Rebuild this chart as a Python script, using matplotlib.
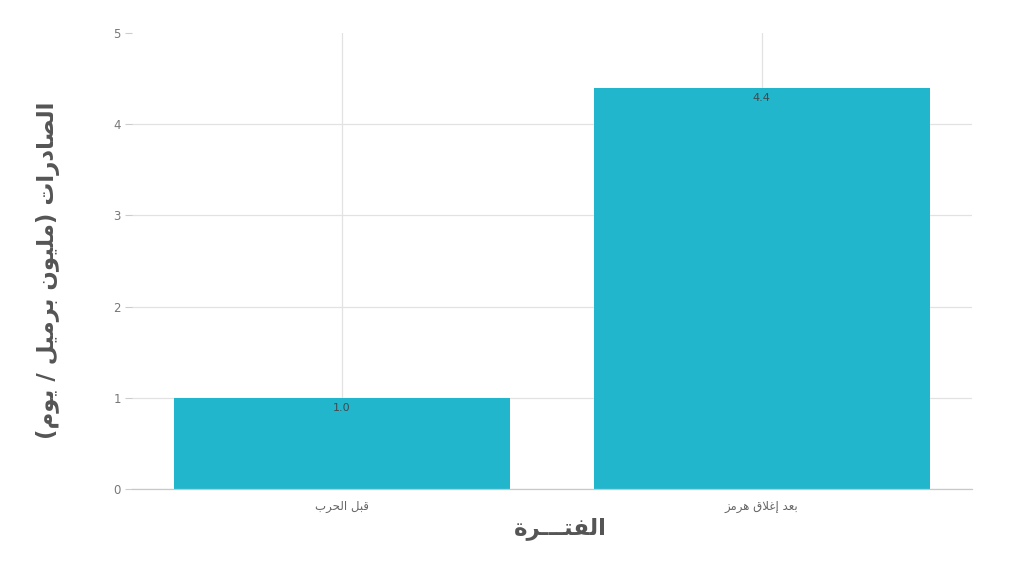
import matplotlib
matplotlib.use("Agg")
import matplotlib.pyplot as plt

categories = ["قبل الحرب", "بعد إغلاق هرمز"]
values = [1.0, 4.4]
value_labels = ["1.0", "4.4"]
y_ticks = [0, 1, 2, 3, 4, 5]
x_title = "الفتـــرة"
y_title = "الصادرات (مليون برميل / يوم)"

# --- minimal Arabic shaping (presentation forms) + visual reordering ---
FORMS = {  # isolated, final, initial, medial
    'ا': (0xFE8D, 0xFE8E, None, None), 'إ': (0xFE87, 0xFE88, None, None),
    'ب': (0xFE8F, 0xFE90, 0xFE91, 0xFE92), 'ة': (0xFE93, 0xFE94, None, None),
    'ت': (0xFE95, 0xFE96, 0xFE97, 0xFE98), 'ح': (0xFEA1, 0xFEA2, 0xFEA3, 0xFEA4),
    'د': (0xFEA9, 0xFEAA, None, None), 'ر': (0xFEAD, 0xFEAE, None, None),
    'ز': (0xFEAF, 0xFEB0, None, None), 'ص': (0xFEB9, 0xFEBA, 0xFEBB, 0xFEBC),
    'ع': (0xFEC9, 0xFECA, 0xFECB, 0xFECC), 'غ': (0xFECD, 0xFECE, 0xFECF, 0xFED0),
    'ف': (0xFED1, 0xFED2, 0xFED3, 0xFED4), 'ق': (0xFED5, 0xFED6, 0xFED7, 0xFED8),
    'ل': (0xFEDD, 0xFEDE, 0xFEDF, 0xFEE0), 'م': (0xFEE1, 0xFEE2, 0xFEE3, 0xFEE4),
    'ن': (0xFEE5, 0xFEE6, 0xFEE7, 0xFEE8), 'ه': (0xFEE9, 0xFEEA, 0xFEEB, 0xFEEC),
    'و': (0xFEED, 0xFEEE, None, None), 'ي': (0xFEF1, 0xFEF2, 0xFEF3, 0xFEF4),
    'ـ': (0x0640, 0x0640, 0x0640, 0x0640),
}
LAMALEF = {'ا': (0xFEFB, 0xFEFC), 'إ': (0xFEF9, 0xFEFA)}


def dual(c):
    return c in FORMS and FORMS[c][2] is not None


def shape(text):
    chars = list(text)
    out = []
    i = 0
    n = len(chars)
    while i < n:
        c = chars[i]
        if c not in FORMS:
            out.append(c)
            i += 1
            continue
        prev = chars[i - 1] if i > 0 else ''
        jp = dual(prev)
        if c == 'ل' and i + 1 < n and chars[i + 1] in LAMALEF:
            iso, fin = LAMALEF[chars[i + 1]]
            out.append(chr(fin if jp else iso))
            i += 2
            continue
        nxt = chars[i + 1] if i + 1 < n else ''
        jn = dual(c) and nxt in FORMS
        iso, fin, ini, med = FORMS[c]
        if jp and jn:
            g = med
        elif jp:
            g = fin
        elif jn:
            g = ini
        else:
            g = iso
        out.append(chr(g))
        i += 1
    vis = ''.join(reversed(out))
    return vis.translate(str.maketrans('()', ')('))


plt.rcParams['font.family'] = ['DejaVu Sans']

fig = plt.figure(figsize=(10.24, 5.76), dpi=100)
ax = fig.add_axes([0.129, 0.151, 0.820, 0.792])

x = list(range(len(categories)))
bars = ax.bar(x, values, width=0.8, color='#21b6cc', zorder=2)
for xi, v, lab in zip(x, values, value_labels):
    ax.annotate(lab, (xi, v), xytext=(0, -4), textcoords='offset points',
                ha='center', va='top', fontsize=8, color='#3f4a50', zorder=3)

ax.set_xlim(-0.5, 1.5)
ax.set_ylim(0, 5)
ax.set_xticks(x)
ax.set_xticklabels([shape(c) for c in categories], fontsize=8.5, color='#666666')
ax.set_yticks(y_ticks)
ax.set_yticklabels([str(t) for t in y_ticks], fontsize=8.5, color='#777777')
ax.tick_params(axis='y', length=5, color='#cccccc', width=0.8, pad=3)
ax.tick_params(axis='x', length=0, pad=8)
ax.grid(True, color='#e2e2e2', linewidth=0.9, zorder=0)
ax.set_axisbelow(True)
for s in ['top', 'right', 'left']:
    ax.spines[s].set_visible(False)
ax.spines['bottom'].set_color('#c8c8c8')
ax.spines['bottom'].set_linewidth(0.9)
ax.yaxis.get_gridlines()[-1].set_visible(False)

fig.text(0.547, 0.083, shape(x_title), ha='center', va='center',
         fontsize=16.5, fontweight='bold', color='#555555')
fig.text(0.047, 0.53, shape(y_title), ha='center', va='center', rotation=90,
         fontsize=16.5, fontweight='bold', color='#555555')

fig.savefig('out.png', dpi=100)
